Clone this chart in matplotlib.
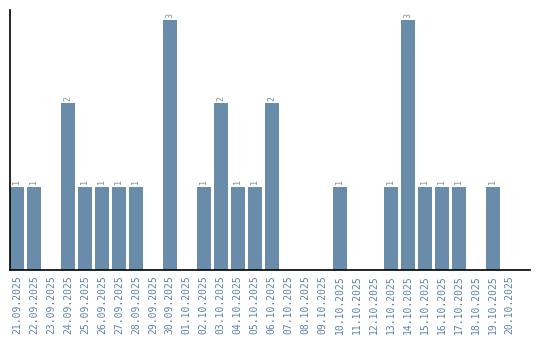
import matplotlib.pyplot as plt
import numpy as np

dates = ["21.09.2025", "22.09.2025", "23.09.2025", "24.09.2025", "25.09.2025",
         "26.09.2025", "27.09.2025", "28.09.2025", "29.09.2025", "30.09.2025",
         "01.10.2025", "02.10.2025", "03.10.2025", "04.10.2025", "05.10.2025",
         "06.10.2025", "07.10.2025", "08.10.2025", "09.10.2025", "10.10.2025",
         "11.10.2025", "12.10.2025", "13.10.2025", "14.10.2025", "15.10.2025",
         "16.10.2025", "17.10.2025", "18.10.2025", "19.10.2025", "20.10.2025"]
counts = [1, 1, 0, 2, 1, 1, 1, 1, 0, 3,
          0, 1, 2, 1, 1, 2, 0, 0, 0, 1,
          0, 0, 1, 3, 1, 1, 1, 0, 1, 0]

bar_color = "#6a8cab"
text_color = "#5f82a8"

fig = plt.figure(figsize=(5.4, 3.4), dpi=100)
ax = fig.add_axes([10 / 540, 70 / 340, 520 / 540, 260 / 340])

x = np.arange(len(dates))
width = 0.82
ax.bar(x, counts, width=width, color=bar_color)

# value labels above non-empty bars
for xi, c in zip(x, counts):
    if c > 0:
        ax.text(xi, c + 0.03, str(c), rotation=90, ha="center", va="bottom",
                fontsize=6, color="#7f8fa0", family="DejaVu Sans Mono")

ax.set_xlim(-width / 2, 30.2)
ax.set_ylim(0, 3.12)
ax.set_xticks(x)
ax.set_xticklabels(dates, rotation=90, fontsize=7, color=text_color,
                   family="DejaVu Sans Mono")
ax.tick_params(axis="x", length=0, pad=4)
ax.set_yticks([])

for side in ["top", "right"]:
    ax.spines[side].set_visible(False)
ax.spines["left"].set_linewidth(1.2)
ax.spines["bottom"].set_linewidth(1.2)

fig.savefig("out.png", dpi=100)
